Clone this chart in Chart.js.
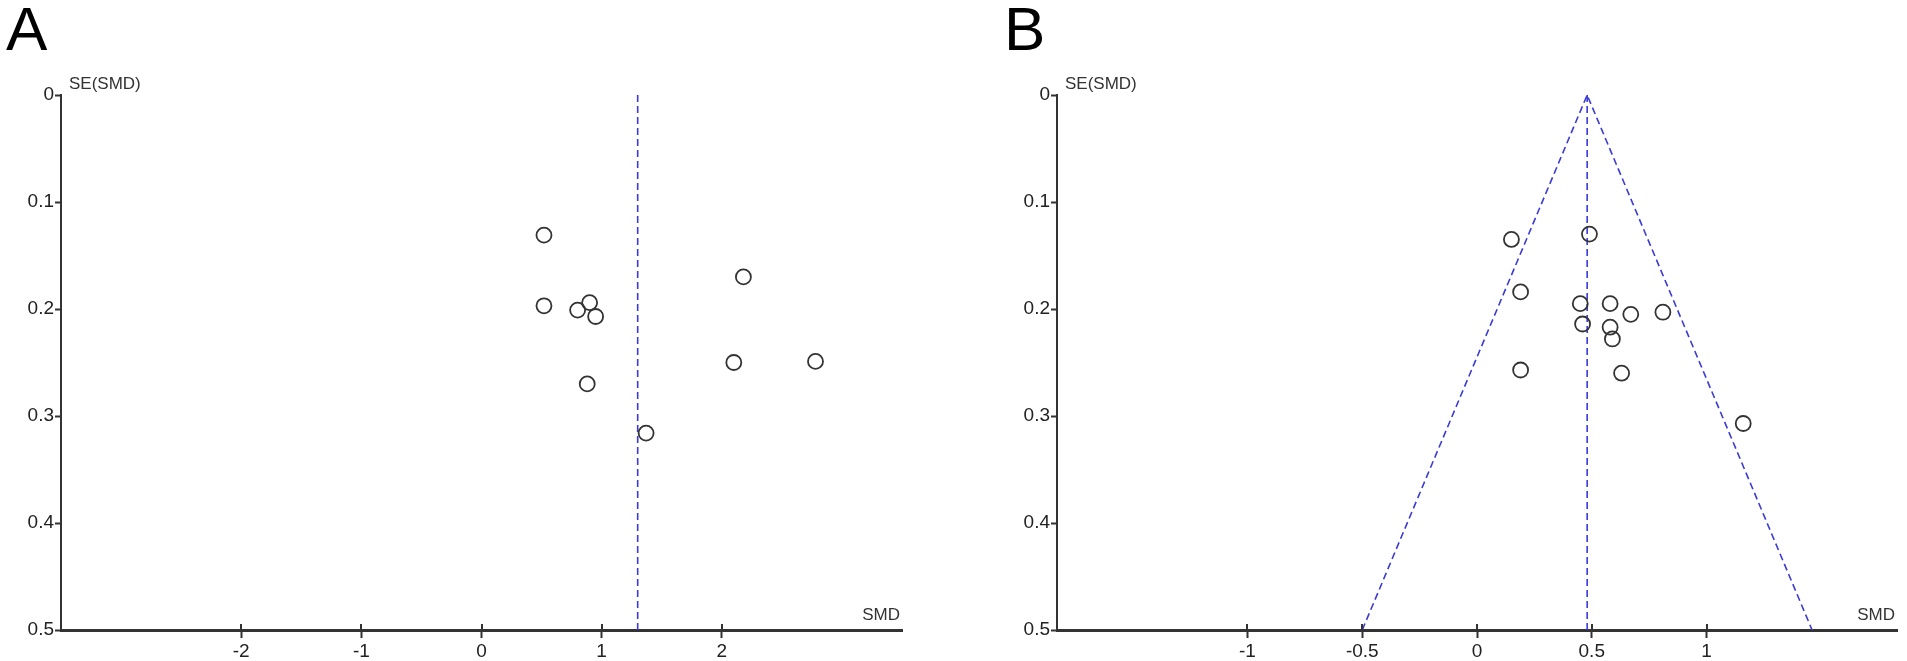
<!DOCTYPE html>
<html>
<head>
<meta charset="utf-8">
<script src="https://cdn.jsdelivr.net/npm/chart.js@4.4.1/dist/chart.umd.min.js"></script>
<style>
  body { margin: 0; background: #fff; }
  #wrap { position: relative; width: 1907px; height: 661px; overflow: hidden; }
  canvas { position: absolute; top: 0; }
  .panel { position: absolute; font-family: 'Liberation Sans', Arial, sans-serif; font-size: 62px; line-height: 1; color: #000; }
</style>
</head>
<body>
<div id="wrap">
  <canvas id="chartA" width="950" height="661" style="left:0"></canvas>
  <canvas id="chartB" width="957" height="661" style="left:950px"></canvas>
  <div class="panel" style="left:6px; top:-2px">A</div>
  <div class="panel" style="left:1004px; top:-2px">B</div>
</div>
<script>
// panel A: SMD and SE(SMD) of each study, pooled estimate
let smdA = [0.52, 2.18, 0.52, 0.80, 0.90, 0.95, 2.10, 2.78, 0.88, 1.37];
let seA = [0.131, 0.170, 0.197, 0.201, 0.194, 0.207, 0.250, 0.249, 0.270, 0.316];
let pooledA = 1.30;
let xTicksA = [-2, -1, 0, 1, 2];

// panel B
let smdB = [0.15, 0.49, 0.19, 0.45, 0.58, 0.67, 0.81, 0.46, 0.58, 0.59, 0.19, 0.63, 1.16];
let seB = [0.135, 0.130, 0.184, 0.195, 0.195, 0.205, 0.203, 0.214, 0.217, 0.228, 0.257, 0.260, 0.307];
let pooledB = 0.48;
let funnelB = [-0.50, 1.46]; // funnel limits at SE = 0.5
let xTicksB = [-1, -0.5, 0, 0.5, 1];

let yTicks = [0, 0.1, 0.2, 0.3, 0.4, 0.5];

const font = "'Liberation Sans', Arial, sans-serif";
const axisColor = "#333";
const dashColor = "#3b3bd6";

// axis captions (SE(SMD) at the top, SMD at the right end) + x ticks poking above the axis
const captions = {
    id: "captions",
    afterDraw(chart) {
        let a = chart.chartArea, ctx = chart.ctx;
        let xs = chart.scales.x;
        ctx.save();
        ctx.strokeStyle = axisColor;
        ctx.lineWidth = 2;
        xs.ticks.forEach(t => {
            let px = Math.round(xs.getPixelForValue(t.value));
            ctx.beginPath();
            ctx.moveTo(px, a.bottom);
            ctx.lineTo(px, a.bottom - 6);
            ctx.stroke();
        });
        ctx.fillStyle = "#333";
        ctx.font = "17px " + font;
        ctx.textBaseline = "bottom";
        ctx.textAlign = "left";
        ctx.fillText("SE(SMD)", a.left + 8, a.top - 2);
        ctx.textAlign = "right";
        ctx.fillText("SMD", a.right - 2, a.bottom - 6);
        ctx.restore();
    }
};

function makeChart(id, smd, se, lines, xMin, xMax, xTicks, leftW, padRight) {
    let pts = smd.map((x, i) => ({ x: x, y: se[i] }));
    let datasets = [{
        type: "scatter",
        data: pts,
        pointStyle: "circle",
        pointRadius: 7.5,
        pointBackgroundColor: "rgba(0,0,0,0)",
        pointBorderColor: "#333",
        pointBorderWidth: 1.8
    }];
    lines.forEach(l => datasets.push({
        type: "line",
        data: l,
        borderColor: dashColor,
        borderWidth: 1.6,
        borderDash: [7, 4],
        pointRadius: 0,
        fill: false
    }));

    return new Chart(document.getElementById(id).getContext("2d"), {
        type: "scatter",
        data: { datasets: datasets },
        plugins: [captions],
        options: {
            responsive: false,
            animation: false,
            devicePixelRatio: 1,
            layout: { padding: { top: 95, right: padRight, left: 0, bottom: 0 } },
            plugins: { legend: { display: false }, tooltip: { enabled: false } },
            scales: {
                x: {
                    type: "linear",
                    min: xMin, max: xMax,
                    afterBuildTicks: s => { s.ticks = xTicks.map(v => ({ value: v })); },
                    afterFit: s => { s.height = 31; },
                    grid: { drawOnChartArea: false, tickLength: 8, color: axisColor, tickWidth: 2 },
                    border: { color: axisColor, width: 3 },
                    ticks: { color: "#222", padding: 2, maxRotation: 0, font: { family: font, size: 19 },
                        callback: v => String(v) }
                },
                y: {
                    type: "linear",
                    reverse: true,
                    min: 0, max: 0.5,
                    afterBuildTicks: s => { s.ticks = yTicks.map(v => ({ value: v })); },
                    afterFit: s => { s.width = leftW; },
                    grid: { drawOnChartArea: false, tickLength: 6, color: axisColor, tickWidth: 2 },
                    border: { color: axisColor, width: 2 },
                    ticks: { color: "#222", padding: 1, font: { family: font, size: 19 },
                        callback: v => String(v) }
                }
            }
        }
    });
}

makeChart("chartA", smdA, seA,
    [[{ x: pooledA, y: 0 }, { x: pooledA, y: 0.5 }]],
    -3.5, 3.5, xTicksA, 61, 48);

makeChart("chartB", smdB, seB,
    [[{ x: pooledB, y: 0 }, { x: pooledB, y: 0.5 }],
     [{ x: funnelB[0], y: 0.5 }, { x: pooledB, y: 0 }, { x: funnelB[1], y: 0.5 }]],
    -1.83, 1.83, xTicksB, 107, 10);
</script>
</body>
</html>
